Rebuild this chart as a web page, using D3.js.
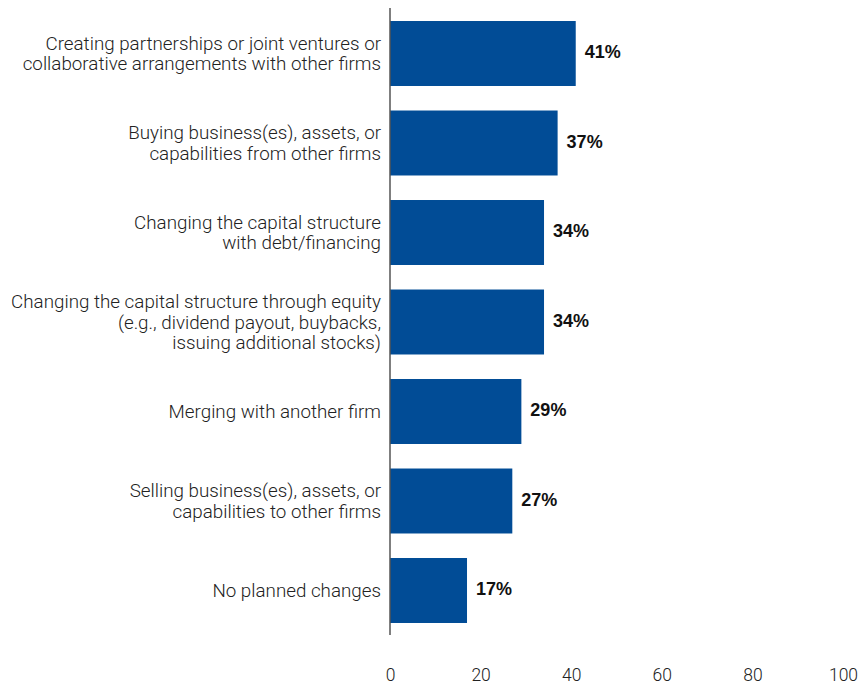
<!DOCTYPE html>
<html>
<head>
<meta charset="utf-8">
<script src="https://cdn.jsdelivr.net/npm/d3@7"></script>
<style>
  html, body { margin: 0; padding: 0; background: #fff; }
  svg { display: block; }
  text { font-family: Roboto, "Liberation Sans", sans-serif; }
</style>
</head>
<body>
<svg id="chart" width="859" height="687"></svg>
<script>
// Planned strategic changes, share of respondents (%)
const categories = [
  ["Creating partnerships or joint ventures or", "collaborative arrangements with other firms"],
  ["Buying business(es), assets, or", "capabilities from other firms"],
  ["Changing the capital structure", "with debt/financing"],
  ["Changing the capital structure through equity", "(e.g., dividend payout, buybacks,", "issuing additional stocks)"],
  ["Merging with another firm"],
  ["Selling business(es), assets, or", "capabilities to other firms"],
  ["No planned changes"]
];
const values = [41, 37, 34, 34, 29, 27, 17];
const tickValues = [0, 20, 40, 60, 80, 100];

const svg = d3.select("#chart");
const x0 = 390, x1 = 843;
const x = d3.scaleLinear().domain([0, 100]).range([x0, x1]);
const y = d3.scaleBand()
  .domain(d3.range(values.length))
  .range([8.75, 635.25])
  .paddingInner(0.274)
  .paddingOuter(0.137);

// bars
svg.append("g").selectAll("rect")
  .data(values)
  .join("rect")
  .attr("x", x(0))
  .attr("y", (d, i) => y(i))
  .attr("width", d => x(d) - x(0))
  .attr("height", y.bandwidth())
  .attr("fill", "#014c96");

// value labels
svg.append("g").selectAll("text")
  .data(values)
  .join("text")
  .attr("x", d => x(d) + 9)
  .attr("y", (d, i) => y(i) + y.bandwidth() / 2)
  .attr("dy", "0.26em")
  .attr("font-size", 18)
  .attr("font-weight", 700)
  .attr("fill", "#111")
  .style("font-family", "'Liberation Sans', Arial, sans-serif")
  .text(d => d + "%");

// category labels (multi-line, right aligned, one text per line)
const lineH = 20.5;
const catG = svg.append("g");
categories.forEach((lines, i) => {
  const cy = y(i) + y.bandwidth() / 2;
  lines.forEach((ln, j) => {
    catG.append("text")
      .attr("text-anchor", "end")
      .attr("font-size", 18.8)
      .attr("font-weight", 300)
      .attr("fill", "#222")
      .attr("x", x0 - 9)
      .attr("y", cy + (j - (lines.length - 1) / 2) * lineH)
      .attr("dy", "0.35em")
      .text(ln);
  });
});

// vertical baseline
svg.append("line")
  .attr("x1", x0).attr("x2", x0)
  .attr("y1", 8).attr("y2", 635)
  .attr("stroke", "#555")
  .attr("stroke-width", 1.5);

// x axis tick labels
const xAxis = d3.axisBottom(x).tickValues(tickValues).tickSize(0).tickPadding(0);
const ax = svg.append("g").attr("transform", "translate(0,669)").call(xAxis);
ax.select(".domain").remove();
ax.selectAll("text")
  .attr("font-size", 17.5)
  .attr("font-weight", 300)
  .attr("fill", "#222")
  .style("font-family", "Roboto, 'Liberation Sans', sans-serif");
</script>
</body>
</html>
